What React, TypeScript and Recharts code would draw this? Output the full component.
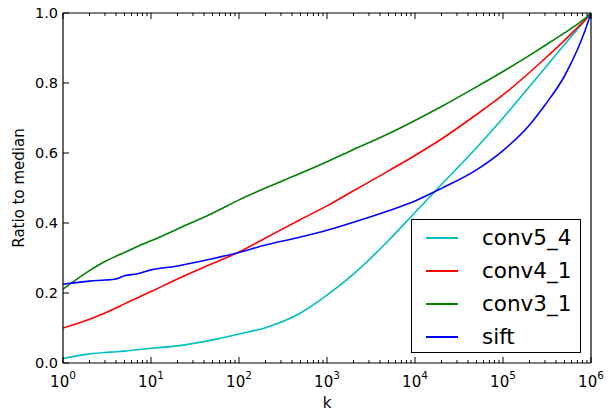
import React from "react";
import { LineChart, Line, XAxis, YAxis } from "recharts";

const kValues = [1, 2, 3, 4, 5, 7, 10, 20, 50, 100, 200, 500, 1e3, 2e3, 5e3, 1e4, 2e4, 5e4, 1e5, 2e5, 3e5, 5e5, 7e5, 8.5e5, 1e6];
const conv5_4 = [0.013, 0.026, 0.030, 0.032, 0.034, 0.038, 0.042, 0.049, 0.066, 0.083, 0.101, 0.143, 0.194, 0.254, 0.350, 0.430, 0.510, 0.615, 0.700, 0.790, 0.843, 0.910, 0.953, 0.978, 1.0];
const conv4_1 = [0.100, 0.125, 0.143, 0.157, 0.169, 0.186, 0.204, 0.240, 0.284, 0.317, 0.357, 0.410, 0.449, 0.492, 0.549, 0.593, 0.640, 0.710, 0.766, 0.830, 0.870, 0.922, 0.958, 0.979, 1.0];
const conv3_1 = [0.211, 0.264, 0.290, 0.305, 0.316, 0.333, 0.349, 0.383, 0.428, 0.466, 0.500, 0.542, 0.575, 0.610, 0.655, 0.693, 0.733, 0.789, 0.833, 0.879, 0.907, 0.943, 0.968, 0.984, 1.0];
const sift = [0.225, 0.234, 0.237, 0.240, 0.249, 0.255, 0.266, 0.277, 0.298, 0.316, 0.337, 0.360, 0.379, 0.402, 0.435, 0.463, 0.499, 0.552, 0.607, 0.680, 0.737, 0.820, 0.895, 0.948, 1.0];

const seriesNames = ["conv5_4", "conv4_1", "conv3_1", "sift"];
const seriesColors = ["#00BFBF", "#FF0000", "#008000", "#0000FF"];
const seriesValues = [conv5_4, conv4_1, conv3_1, sift];

const yTicks = [0, 0.2, 0.4, 0.6, 0.8, 1.0];
const xTicks: number[] = [];
for (let e = 0; e < 6; e++) {
  for (let m = 1; m < 10; m++) xTicks.push(m * Math.pow(10, e));
}
xTicks.push(1e6);

const data = kValues.map((k, i) => {
  const row: any = { k };
  seriesNames.forEach((n, j) => (row[n] = seriesValues[j][i]));
  return row;
});

const FONT = "DejaVu Sans, Liberation Sans, sans-serif";

const isMajor = (v: number) => {
  const e = Math.round(Math.log10(v));
  return Math.abs(Math.pow(10, e) - v) < 1e-6 * v;
};

const BottomTick = (props: any) => {
  const { x, y, payload } = props;
  const v = payload.value;
  const major = isMajor(v);
  const exp = Math.round(Math.log10(v));
  return (
    <g>
      <line x1={x} x2={x} y1={y} y2={y - (major ? 6 : 3)} stroke="#000" strokeWidth={1} />
      {major && (
        <text x={x} y={y + 24} textAnchor="middle" fontSize={15} fill="#000" fontFamily={FONT}>
          <tspan>10</tspan>
          <tspan dy={-8} fontSize={10.5}>{exp}</tspan>
        </text>
      )}
    </g>
  );
};

const TopTick = (props: any) => {
  const { x, y, payload } = props;
  const major = isMajor(payload.value);
  return <line x1={x} x2={x} y1={y} y2={y + (major ? 6 : 3)} stroke="#000" strokeWidth={1} />;
};

const LeftTick = (props: any) => {
  const { x, y, payload } = props;
  return (
    <g>
      <line x1={x} x2={x + 6} y1={y} y2={y} stroke="#000" strokeWidth={1} />
      <text x={x - 5} y={y} dy="0.36em" textAnchor="end" fontSize={14.5} fill="#000" fontFamily={FONT}>
        {Number(payload.value).toFixed(1)}
      </text>
    </g>
  );
};

const RightTick = (props: any) => {
  const { x, y } = props;
  return <line x1={x} x2={x - 6} y1={y} y2={y} stroke="#000" strokeWidth={1} />;
};

const LegendBox = () => (
  <div
    style={{
      position: "absolute",
      left: 411,
      top: 219,
      width: 170,
      height: 134,
      boxSizing: "border-box",
      border: "1px solid #000",
      background: "#fff",
      paddingTop: 1,
      fontFamily: FONT,
    }}
  >
    {seriesNames.map((n, i) => (
      <div key={n} style={{ display: "flex", alignItems: "center", height: 33 }}>
        <div style={{ width: 32, height: 2, background: seriesColors[i], marginLeft: 14 }} />
        <div style={{ marginLeft: 24, fontSize: 21.5, color: "#000", lineHeight: "33px" }}>{n}</div>
      </div>
    ))}
  </div>
);

export default function App() {
  return (
    <div style={{ position: "absolute", left: 0, top: 0, width: 611, height: 411, background: "#fff" }}>
      <LineChart width={611} height={411} data={data} margin={{ top: 0, right: 0, left: 0, bottom: 0 }}>
        <XAxis
          dataKey="k"
          type="number"
          scale="log"
          domain={[1, 1e6]}
          allowDataOverflow
          ticks={xTicks}
          interval={0}
          height={48}
          tickSize={0}
          tickMargin={0}
          tickLine={false}
          axisLine={{ stroke: "#000", strokeWidth: 1.2 }}
          tick={<BottomTick />}
          label={{ value: "k", position: "insideBottom", offset: 3, fontSize: 15, fill: "#000", fontFamily: FONT }}
        />
        <XAxis
          xAxisId="top"
          orientation="top"
          dataKey="k"
          type="number"
          scale="log"
          domain={[1, 1e6]}
          allowDataOverflow
          ticks={xTicks}
          interval={0}
          height={13}
          tickSize={0}
          tickMargin={0}
          tickLine={false}
          axisLine={{ stroke: "#000", strokeWidth: 1.2 }}
          tick={<TopTick />}
        />
        <YAxis
          type="number"
          domain={[0, 1]}
          ticks={yTicks}
          interval={0}
          width={63}
          tickSize={0}
          tickMargin={0}
          tickLine={false}
          axisLine={{ stroke: "#000", strokeWidth: 1.2 }}
          tick={<LeftTick />}
          label={{
            value: "Ratio to median",
            angle: -90,
            position: "insideLeft",
            offset: 19,
            style: { textAnchor: "middle" },
            fontSize: 15,
            fill: "#000",
            fontFamily: FONT,
          }}
        />
        <YAxis
          yAxisId="right"
          orientation="right"
          type="number"
          domain={[0, 1]}
          ticks={yTicks}
          interval={0}
          width={20}
          tickSize={0}
          tickMargin={0}
          tickLine={false}
          axisLine={{ stroke: "#000", strokeWidth: 1.2 }}
          tick={<RightTick />}
        />
        {seriesNames.map((n, i) => (
          <Line
            key={n}
            dataKey={n}
            name={n}
            type="monotone"
            stroke={seriesColors[i]}
            strokeWidth={1.6}
            dot={false}
            isAnimationActive={false}
          />
        ))}
      </LineChart>
      <LegendBox />
    </div>
  );
}
